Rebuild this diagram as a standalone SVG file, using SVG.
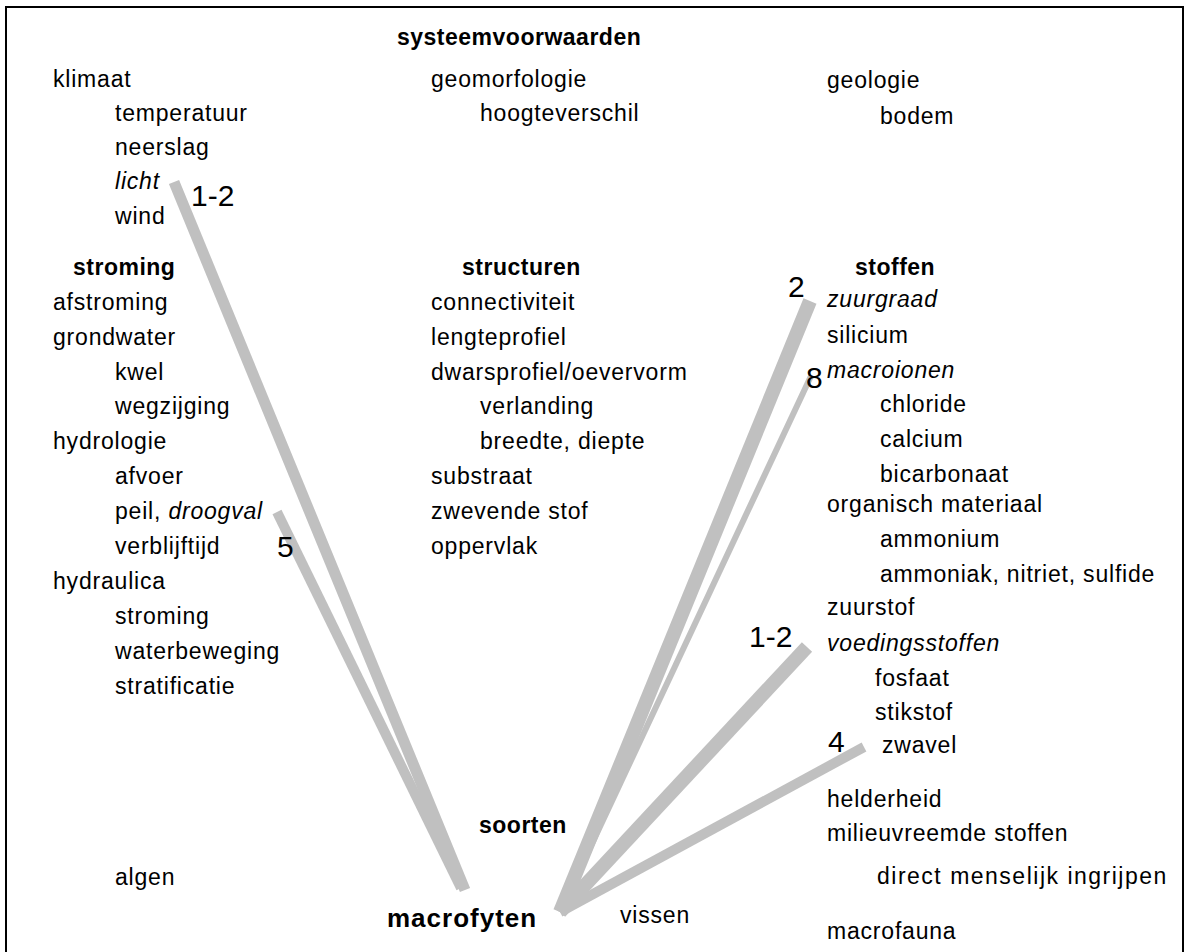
<svg xmlns="http://www.w3.org/2000/svg" width="1187" height="952" viewBox="0 0 1187 952">
  <style>
    text { font-family: "Liberation Sans", Arial, sans-serif; font-size: 23px; fill: #000; letter-spacing: 0.8px; }
    .h { font-weight: bold; letter-spacing: 0.5px; }
    .i { font-style: italic; }
    .n { font-size: 30px; letter-spacing: 0; }
    .big { font-size: 26px; font-weight: bold; letter-spacing: 1px; }
    .wide { letter-spacing: 1.5px; }
    .link { stroke: #c0c0c0; stroke-linecap: butt; fill: none; }
  </style>
  <rect x="6" y="7" width="1177" height="960" fill="#fff" stroke="#000" stroke-width="2"/>

  <!-- connectors: relations of macrofyten with the factors -->
  <g id="connectors">
    <line class="link" x1="174" y1="182" x2="465" y2="890" stroke-width="11"/>
    <line class="link" x1="277" y1="512" x2="461" y2="888" stroke-width="10"/>
    <line class="link" x1="810" y1="301" x2="560" y2="912" stroke-width="14"/>
    <line class="link" x1="811" y1="376" x2="560" y2="912" stroke-width="6"/>
    <line class="link" x1="807" y1="647" x2="560" y2="912" stroke-width="14"/>
    <line class="link" x1="864" y1="747" x2="560" y2="912" stroke-width="10"/>
  </g>

  <!-- strength labels -->
  <g id="weights">
    <text class="n" x="191" y="206">1-2</text>
    <text class="n" x="277" y="557">5</text>
    <text class="n" x="788" y="297">2</text>
    <text class="n" x="806" y="388">8</text>
    <text class="n" x="749" y="647">1-2</text>
    <text class="n" x="828" y="752">4</text>
  </g>

  <g id="systeemvoorwaarden">
    <text class="h" x="397" y="45">systeemvoorwaarden</text>
  </g>

  <g id="klimaat">
    <text x="53" y="87">klimaat</text>
    <text x="115" y="121">temperatuur</text>
    <text x="115" y="155">neerslag</text>
    <text class="i" x="115" y="189">licht</text>
    <text x="115" y="224">wind</text>
  </g>

  <g id="geomorfologie">
    <text x="431" y="87">geomorfologie</text>
    <text x="480" y="121">hoogteverschil</text>
  </g>

  <g id="geologie">
    <text x="827" y="88">geologie</text>
    <text x="880" y="124">bodem</text>
  </g>

  <g id="stroming">
    <text class="h" x="73" y="275">stroming</text>
    <text x="53" y="310">afstroming</text>
    <text x="53" y="345">grondwater</text>
    <text x="115" y="380">kwel</text>
    <text x="115" y="414">wegzijging</text>
    <text x="53" y="449">hydrologie</text>
    <text x="115" y="484">afvoer</text>
    <text x="115" y="519">peil, <tspan class="i">droogval</tspan></text>
    <text x="115" y="554">verblijftijd</text>
    <text x="53" y="589">hydraulica</text>
    <text x="115" y="624">stroming</text>
    <text x="115" y="659">waterbeweging</text>
    <text x="115" y="694">stratificatie</text>
  </g>

  <g id="structuren">
    <text class="h" x="462" y="275">structuren</text>
    <text x="431" y="310">connectiviteit</text>
    <text x="431" y="345">lengteprofiel</text>
    <text x="431" y="380">dwarsprofiel/oevervorm</text>
    <text x="480" y="414">verlanding</text>
    <text x="480" y="449">breedte, diepte</text>
    <text x="431" y="484">substraat</text>
    <text x="431" y="519">zwevende stof</text>
    <text x="431" y="554">oppervlak</text>
  </g>

  <g id="stoffen">
    <text class="h" x="855" y="275">stoffen</text>
    <text class="i" x="827" y="307">zuurgraad</text>
    <text x="827" y="343">silicium</text>
    <text class="i" x="827" y="378">macroionen</text>
    <text x="880" y="412">chloride</text>
    <text x="880" y="447">calcium</text>
    <text x="880" y="482">bicarbonaat</text>
    <text x="827" y="512">organisch materiaal</text>
    <text x="880" y="547">ammonium</text>
    <text x="880" y="582">ammoniak, nitriet, sulfide</text>
    <text x="827" y="615">zuurstof</text>
    <text class="i" x="827" y="651">voedingsstoffen</text>
    <text x="875" y="686">fosfaat</text>
    <text x="875" y="720">stikstof</text>
    <text x="882" y="753">zwavel</text>
    <text x="827" y="807">helderheid</text>
    <text x="827" y="841">milieuvreemde stoffen</text>
    <text class="wide" x="877" y="884">direct menselijk ingrijpen</text>
  </g>

  <g id="soorten">
    <text class="h" x="479" y="833">soorten</text>
    <text x="115" y="885">algen</text>
    <text class="big" x="387" y="927">macrofyten</text>
    <text x="620" y="923">vissen</text>
    <text x="827" y="939">macrofauna</text>
  </g>
</svg>
